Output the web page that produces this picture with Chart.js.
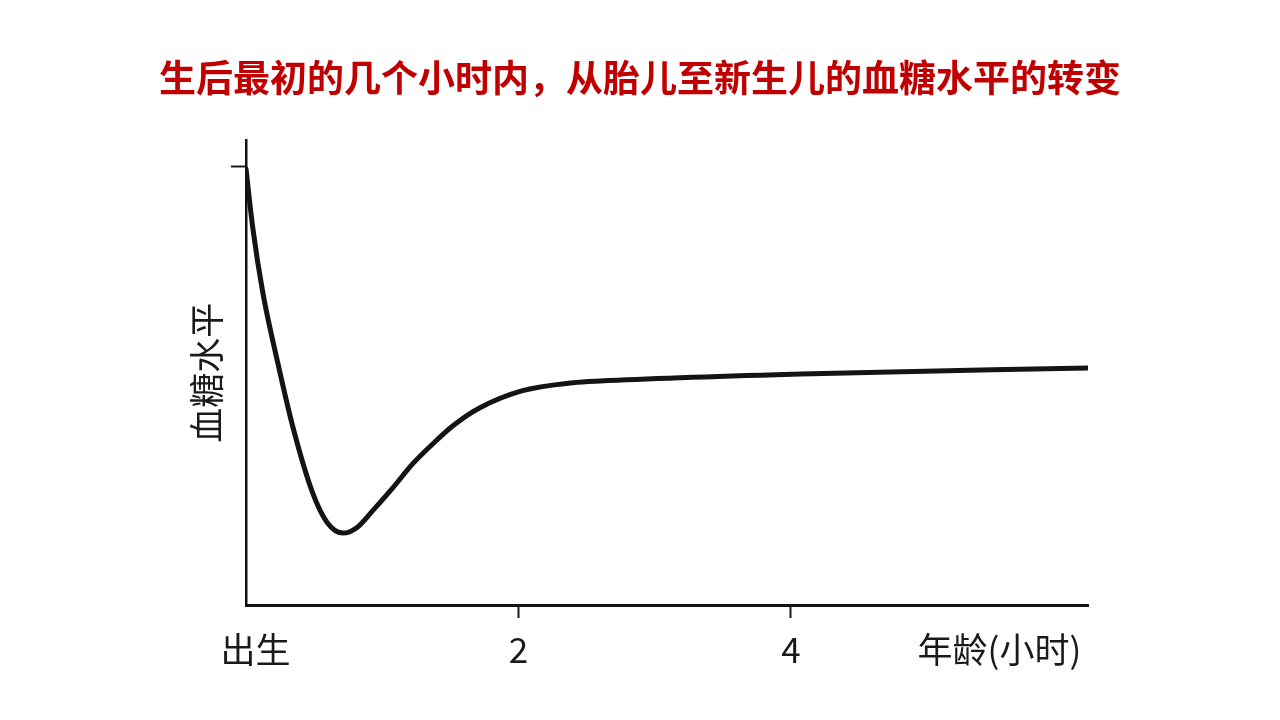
<!DOCTYPE html>
<html>
<head>
<meta charset="utf-8">
<script src="https://cdn.jsdelivr.net/npm/chart.js@4.4.1/dist/chart.umd.min.js"></script>
<style>
  html, body { margin: 0; padding: 0; background: #ffffff; }
  #wrap { width: 1280px; height: 720px; position: relative; }
</style>
</head>
<body>
<div id="wrap"><canvas id="c"></canvas></div>
<script>
// Hours after birth (x) and relative blood glucose level (y, arbitrary units)
const hours   = [0,    0.05, 0.125, 0.23, 0.345, 0.49, 0.594, 0.712, 0.815, 0.932, 1.079, 1.226, 1.372, 1.519, 1.717, 2.03, 2.4,  2.6,  4.07, 6.18];
const glucose = [99.5, 86,   71,    55.7, 40.5,  25.5, 18.9,  16.4,  17.7,  21.6,  26.8,  32.3,  36.8,  40.9,  45.0,  48.9, 50.7, 51.1, 52.7, 54.1];

const xTickValues = [0.07, 2, 4, 5.53];
const xTickLabels = ['出生', '2', '4', '年龄(小时)'];
const yTickValues = [100];

const titleText = '生后最初的几个小时内，从胎儿至新生儿的血糖水平的转变';
const yTitleText = '血糖水平';

const FONT = "'Noto Sans CJK SC', 'Noto Sans', sans-serif";
const points = hours.map((h, i) => ({ x: h, y: glucose[i] }));

new Chart(document.getElementById('c'), {
  type: 'line',
  data: {
    datasets: [{
      data: points,
      borderColor: '#141414',
      borderWidth: 5,
      pointRadius: 0,
      fill: false,
      cubicInterpolationMode: 'monotone',
      borderCapStyle: 'round',
      borderJoinStyle: 'round'
    }]
  },
  options: {
    responsive: true,
    maintainAspectRatio: false,
    animation: false,
    layout: { padding: { left: 0, right: 0, top: 0, bottom: 0 } },
    plugins: {
      legend: { display: false },
      tooltip: { enabled: false },
      title: {
        display: true,
        text: titleText,
        color: '#c00000',
        font: { family: FONT, size: 37, weight: 'bold' },
        padding: { top: 56, bottom: 40 }
      }
    },
    scales: {
      x: {
        type: 'linear',
        min: 0,
        max: 6.18,
        afterBuildTicks: (scale) => { scale.ticks = xTickValues.map(v => ({ value: v })); },
        afterFit: (scale) => { scale.height = 115; },
        ticks: {
          autoSkip: false,
          maxRotation: 0,
          minRotation: 0,
          padding: 11,
          color: '#1a1a1a',
          font: { family: FONT, size: 35 },
          callback: (value) => {
            const i = xTickValues.indexOf(value);
            return i >= 0 ? xTickLabels[i] : '';
          }
        },
        grid: {
          display: true,
          drawOnChartArea: false,
          drawTicks: true,
          tickLength: 13,
          tickWidth: 2,
          tickColor: (ctx) => (ctx.tick && (ctx.tick.value === 2 || ctx.tick.value === 4)) ? '#1a1a1a' : 'rgba(0,0,0,0)'
        },
        border: { display: true, color: '#111111', width: 3 }
      },
      y: {
        type: 'linear',
        position: 'left',
        min: 0,
        max: 106,
        afterBuildTicks: (scale) => { scale.ticks = yTickValues.map(v => ({ value: v })); },
        afterFit: (scale) => { scale.width = 246; },
        ticks: { display: false },
        grid: {
          display: true,
          drawOnChartArea: false,
          drawTicks: true,
          tickLength: 15,
          tickWidth: 2,
          tickColor: '#1a1a1a'
        },
        border: { display: true, color: '#111111', width: 2.5 },
        title: {
          display: true,
          text: yTitleText,
          color: '#1a1a1a',
          font: { family: FONT, size: 35 },
          padding: { top: 186, bottom: 4 }
        }
      },
      yRight: {
        type: 'linear',
        position: 'right',
        min: 0,
        max: 106,
        afterFit: (scale) => { scale.width = 192; },
        ticks: { display: false },
        grid: { display: false, drawTicks: false },
        border: { display: false }
      }
    }
  }
});
</script>
</body>
</html>
